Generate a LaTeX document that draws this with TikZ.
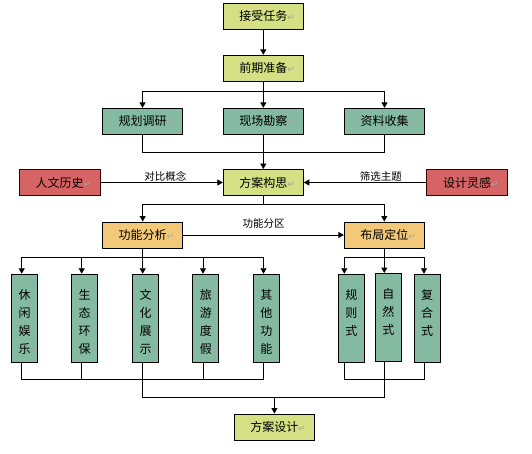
\documentclass[tikz,border=0pt]{standalone}
\usepackage{fontspec}
\setmainfont{Noto Sans CJK SC}
\newfontfamily\symf{DejaVu Sans}
\usetikzlibrary{arrows.meta}
\definecolor{ygreen}{HTML}{D4E083}
\definecolor{tealg}{HTML}{84B9A2}
\definecolor{redb}{HTML}{D66464}
\definecolor{orangeb}{HTML}{F3C878}
\newcommand\retmark{\rlap{\symf\fontsize{9}{9}\selectfont\textcolor{black!35}{↵}}}
\newcommand\talltxt[1]{\parbox[c][88pt][t]{26pt}{\centering\fontsize{12}{18}\selectfont\vspace*{15pt}#1}}
\tikzset{
  box/.style={draw=black, line width=0.9pt, minimum width=80pt, minimum height=26pt, inner sep=0pt, font=\fontsize{12}{14}\selectfont},
  ybox/.style={box, fill=ygreen},
  gbox/.style={box, fill=tealg},
  rbox/.style={box, fill=redb, draw=black!80!red, minimum width=81pt},
  obox/.style={box, fill=orangeb},
  tallbox/.style={draw=black, line width=0.9pt, fill=tealg, inner sep=0pt},
  conn/.style={line width=0.9pt},
  arr/.style={conn, -{Triangle[width=6pt,length=5.5pt]}},
  lbl/.style={font=\fontsize{10.5}{13}\selectfont, inner sep=1pt}
}
\begin{document}
\begin{tikzpicture}[x=1pt,y=-1pt]
\useasboundingbox (0,0) rectangle (532,454);
% main column
\node[ybox] (t1) at (263.3,16.3) {接受任务\retmark};
\node[ybox] (t2) at (263.3,68.3) {前期准备\retmark};
\node[gbox] (b1) at (142.5,121.3) {规划调研\retmark};
\node[gbox] (b2) at (263.3,121.3) {现场勘察\retmark};
\node[gbox] (b3) at (384.5,121.3) {资料收集\retmark};
\node[rbox] (h) at (59.5,182.5) {人文历史\retmark};
\node[ybox] (c) at (263.3,182.5) {方案构思\retmark};
\node[rbox] (w) at (467.2,182.5) {设计灵感\retmark};
\node[obox] (f) at (142.7,235) {功能分析\retmark};
\node[obox] (p) at (384.3,235) {布局定位\retmark};
\node[ybox] (d) at (274.4,427) {方案设计\retmark};
% tall boxes
\node[tallbox] (l1) at (24.5,318.2) {\talltxt{休\\闲\\娱\\乐\retmark}};
\node[tallbox] (l2) at (84.5,318.2) {\talltxt{生\\态\\环\\保\retmark}};
\node[tallbox] (l3) at (145.5,318.2) {\talltxt{文\\化\\展\\示\retmark}};
\node[tallbox] (l4) at (205.8,318.2) {\talltxt{旅\\游\\度\\假\retmark}};
\node[tallbox] (l5) at (266.3,318.2) {\talltxt{其\\他\\功\\能\retmark}};
\node[tallbox] (r1) at (351.3,318.2) {\talltxt{规\\则\\式\retmark}};
\node[tallbox] (r2) at (388.3,317.5) {\talltxt{自\\然\\式\retmark}};
\node[tallbox] (r3) at (427.2,318.2) {\talltxt{复\\合\\式\retmark}};
% connector end points on the tall boxes
\foreach \n/\s in {l1/-2.8,l2/-2.8,l3/-2.8,l4/-2.8,l5/-2.8,r1/-7,r2/-4,r3/-3.2}{
  \coordinate (\n t) at ([xshift=\s pt]\n.north);
  \coordinate (\n b) at ([xshift=\s pt]\n.south);
}
% level references
\coordinate (ya) at (0,91);
\coordinate (yj) at (0,152.3);
\coordinate (yk) at (0,204);
\coordinate (ys) at (0,257.3);
\coordinate (yb) at (0,379.3);
\coordinate (yc) at (0,397.3);
% top part
\draw[arr] (t1) -- (t2);
\draw[arr] (t2) -- (b2);
\draw[conn] (b1 |- ya) -- (b3 |- ya);
\draw[arr] (b1 |- ya) -- (b1);
\draw[arr] (b3 |- ya) -- (b3);
\draw[conn] (b1) -- (b1 |- yj) -- (b3 |- yj) -- (b3);
\draw[arr] (b2) -- (c);
\draw[arr] (h) -- node[lbl, above, pos=0.53] {对比概念} (c);
\draw[arr] (w) -- node[lbl, above, pos=0.37] {筛选主题} (c);
% second split
\draw[conn] (c) -- (c |- yk);
\draw[conn] (f |- yk) -- (p |- yk);
\draw[arr] (f |- yk) -- (f);
\draw[arr] (p |- yk) -- (p);
\draw[arr] (f) -- node[lbl, above=5pt] {功能分区} (p);
% left group
\draw[arr] (f) -- (l3t);
\draw[conn] (l1t |- ys) -- (l5t |- ys);
\draw[arr] (l1t |- ys) -- (l1t);
\draw[arr] (l2t |- ys) -- (l2t);
\draw[arr] (l4t |- ys) -- (l4t);
\draw[arr] (l5t |- ys) -- (l5t);
% right group
\draw[arr] (p) -- (r2t);
\draw[conn] (r1t |- ys) -- (r3t |- ys);
\draw[arr] (r1t |- ys) -- (r1t);
\draw[arr] (r3t |- ys) -- (r3t);
% bottom joins
\draw[conn] (l1b) -- (l1b |- yb) -- (l5b |- yb) -- (l5b);
\draw[conn] (l2b) -- (l2b |- yb);
\draw[conn] (l4b) -- (l4b |- yb);
\draw[conn] (r1b) -- (r1b |- yb) -- (r3b |- yb) -- (r3b);
\draw[conn] (l3b) -- (l3b |- yc) -- (r2b |- yc) -- (r2b);
\draw[arr] (d |- yc) -- (d);
\end{tikzpicture}
\end{document}
